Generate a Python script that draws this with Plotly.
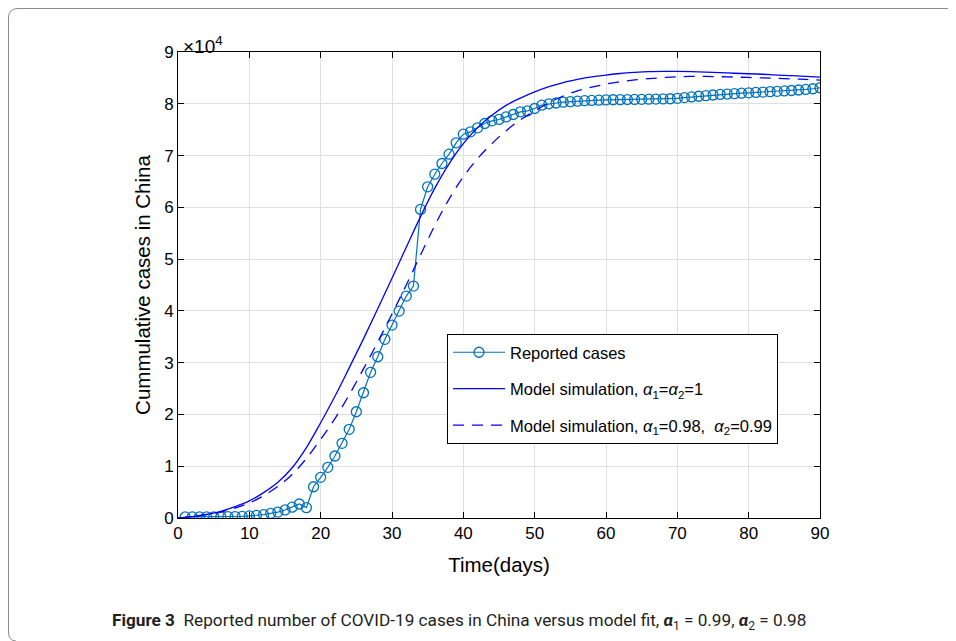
import plotly.graph_objects as go

# ---------------- data ----------------
days = list(range(1, 91))
reported = [
    200, 200, 210, 220, 230, 240, 260, 280, 310, 400,
    500, 650, 900, 1150, 1550, 2100, 2700, 2000,
    6040, 7860, 9790, 11970, 14420, 17120, 20520, 24190, 28130, 31140,
    34500, 37260, 39960, 42860, 44790,
    59600, 63960, 66400, 68470, 70270, 72450, 74130, 74580, 75350, 76190,
    76700, 76970, 77470, 77930, 78440, 78630, 79090, 79730,
    80000, 80150, 80300, 80400, 80500, 80600, 80650, 80700, 80740, 80780,
    80800, 80820, 80840, 80860, 80880, 80900, 80930, 80970,
    81050, 81200, 81320, 81450, 81570, 81700, 81800, 81880, 81960, 82040,
    82120, 82190, 82260, 82330, 82400, 82480, 82560, 82660, 82780, 82900,
    83100,
]

model_days = list(range(0, 91, 2))
model_a1 = [
    0, 250, 700, 1300, 2200, 3300, 4900, 6900, 9700, 13600,
    18400, 23500, 29000, 34600, 40400, 46300, 52300, 58200, 63700, 68400,
    72300, 75400, 77800, 79700, 81100, 82300, 83300, 84100, 84700, 85200,
    85550, 85850, 86050, 86200, 86250, 86250, 86200, 86100, 86000, 85900,
    85800, 85700, 85550, 85450, 85300, 85150,
]
model_a098 = [
    0, 230, 650, 1150, 1900, 2900, 4300, 6100, 8400, 11500,
    15200, 19200, 23800, 28800, 34000, 39400, 45000, 50800, 56500, 61600,
    65900, 69400, 72300, 74800, 76900, 78600, 80200, 81500, 82500, 83200,
    83800, 84250, 84600, 84850, 85050, 85200, 85280, 85280, 85230, 85160,
    85080, 84990, 84900, 84800, 84700, 84580,
]

x_ticks = list(range(0, 91, 10))
y_ticks = [i * 10000 for i in range(0, 10)]
y_tick_text = [str(i) for i in range(0, 10)]

# ---------------- layout geometry (page pixels; page body has an 8px margin) ----------------
OFF = 8
W, H = 956 - OFF, 641 - OFF
L, R, T, B = 178, 820, 52, 518  # plot area in page pixels


def px(xp):
    return (xp - L) / (R - L)


def py(yp):
    return (B - yp) / (B - T)


FONT = "Liberation Sans, Arial, Helvetica, sans-serif"
C_REP = "#0072BD"
C_MOD = "#0000FF"

fig = go.Figure()
fig.add_trace(go.Scatter(
    x=days, y=reported, mode="lines+markers",
    name="Reported cases", legendgroup="a",
    line=dict(color=C_REP, width=1.2),
    marker=dict(symbol="circle-open", size=10, color=C_REP, line=dict(width=1.3, color=C_REP)),
))
fig.add_trace(go.Scatter(
    x=model_days, y=model_a1, mode="lines", line_shape="spline",
    name="Model simulation, <i>α</i><sub>1</sub>=<i>α</i><sub>2</sub>=1", legendgroup="b",
    line=dict(color=C_MOD, width=1.3),
))
fig.add_trace(go.Scatter(
    x=model_days, y=model_a098, mode="lines", line_shape="spline",
    name="Model simulation, <i>α</i><sub>1</sub>=0.98,  <i>α</i><sub>2</sub>=0.99", legendgroup="c",
    line=dict(color=C_MOD, width=1.3, dash="11px,8px"),
))

axis_common = dict(
    showline=True, linecolor="black", linewidth=1, mirror="allticks",
    ticks="inside", ticklen=6, tickwidth=1, tickcolor="black",
    showgrid=True, gridcolor="#e0e0e0", gridwidth=1, zeroline=False,
    tickfont=dict(family=FONT, size=17, color="black"),
)

fig.update_layout(
    width=W, height=H,
    margin=dict(l=L - OFF, r=W - (R - OFF), t=T - OFF, b=H - (B - OFF)),
    paper_bgcolor="white", plot_bgcolor="white",
    showlegend=True,
    legend=dict(
        x=px(447), y=py(334), xanchor="left", yanchor="top",
        bgcolor="white", bordercolor="black", borderwidth=1,
        font=dict(family=FONT, size=16.5, color="black"),
        tracegroupgap=12, itemwidth=52,
    ),
    xaxis=dict(
        range=[0, 90], tickvals=x_ticks,
        title=dict(text="Time(days)", font=dict(family=FONT, size=20.5, color="black"), standoff=15),
        **axis_common,
    ),
    yaxis=dict(
        range=[0, 90000], tickvals=y_ticks, ticktext=y_tick_text,
        title=dict(text="Cummulative cases in China", font=dict(family=FONT, size=20.5, color="black"), standoff=7),
        **axis_common,
    ),
    annotations=[
        dict(text="×10<sup>4</sup>", x=px(181), y=py(45), xref="paper", yref="paper",
             xanchor="left", yanchor="middle", showarrow=False,
             font=dict(family=FONT, size=19, color="black")),
        dict(text="<b>Figure 3</b>  Reported number of COVID-19 cases in China versus model fit, "
                  "<b><i>α</i></b><sub>1</sub> = 0.99, <b><i>α</i></b><sub>2</sub> = 0.98",
             x=px(110), y=py(621), xref="paper", yref="paper",
             xanchor="left", yanchor="middle", showarrow=False,
             font=dict(family="Roboto, Open Sans, sans-serif", size=17.2, color="#231f20")),
    ],
    shapes=[
        dict(type="path", xref="paper", yref="paper",
             path=(f"M {px(970)},{py(8.5)} L {px(18)},{py(8.5)} Q {px(8.5)},{py(8.5)} {px(8.5)},{py(18)} "
                   f"L {px(8.5)},{py(632)} Q {px(8.5)},{py(641)} {px(16)},{py(641)}"),
             line=dict(color="#8a8a8a", width=1)),
    ],
)

fig.write_html("out.html")
